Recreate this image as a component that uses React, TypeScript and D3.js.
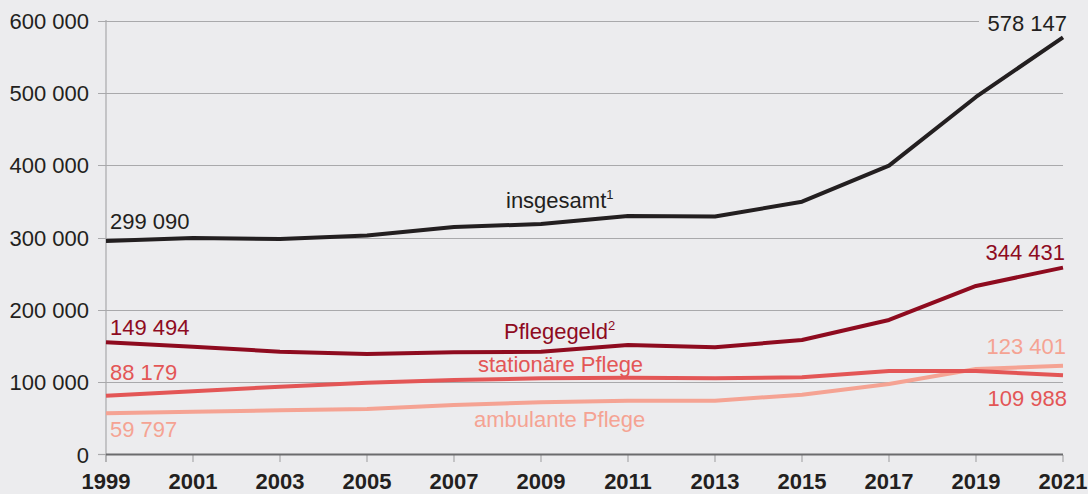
import React from "react";
import * as d3 from "d3";

const years = [1999, 2001, 2003, 2005, 2007, 2009, 2011, 2013, 2015, 2017, 2019, 2021];
const insgesamt = [295000, 299300, 298000, 302800, 314500, 318700, 329700, 329000, 349500, 399300, 494300, 576800];
const pflegegeld = [155100, 149000, 142100, 138900, 141300, 142100, 151400, 148200, 158300, 186000, 233000, 258300];
const stationaer = [81300, 87400, 93700, 99300, 103000, 105300, 106200, 105300, 106700, 115400, 115400, 109500];
const ambulant = [57000, 59200, 61100, 62900, 68400, 72200, 74400, 74400, 82700, 97500, 118200, 122800];
const yTicks = [0, 100000, 200000, 300000, 400000, 500000, 600000];

const W = 1088;
const H = 494;
const FONT = "'Liberation Sans', Arial, Helvetica, sans-serif";

const fmt = (v: number) => (v === 0 ? "0" : d3.format(",")(v).replace(/,/g, " "));

export default function App() {
  const x = d3.scaleLinear().domain([1999, 2021]).range([106, 1063]);
  const y = d3.scaleLinear().domain([0, 600000]).range([454.5, 20.5]);
  const line = d3
    .line<number>()
    .x((_, i) => x(years[i]))
    .y((d) => y(d));

  const series = [
    { data: ambulant, color: "#f5a393" },
    { data: stationaer, color: "#e35656" },
    { data: pflegegeld, color: "#8e0b1f" },
    { data: insgesamt, color: "#231f20" },
  ];

  return (
    <svg
      width={W}
      height={H}
      style={{ position: "absolute", left: 0, top: 0, display: "block" }}
      fontFamily={FONT}
    >
      <rect x={0} y={0} width={W} height={H} fill="#ececee" />
      {yTicks.map((t) => (
        <g key={t}>
          {t > 0 && (
            <line x1={98} x2={1063} y1={Math.round(y(t)) + 0.5} y2={Math.round(y(t)) + 0.5} stroke="#a9a9ab" strokeWidth={1.2} />
          )}
          {t === 0 && <line x1={98} x2={106} y1={y(t)} y2={y(t)} stroke="#a9a9ab" strokeWidth={1.2} />}
          <text x={89} y={y(t) + 8} textAnchor="end" fontSize={22} fill="#231f20">
            {fmt(t)}
          </text>
        </g>
      ))}
      <line x1={106} x2={106} y1={20} y2={462} stroke="#a9a9ab" strokeWidth={1.2} />
      {years.map((yr) => (
        <g key={yr}>
          <line x1={x(yr)} x2={x(yr)} y1={455} y2={462} stroke="#a9a9ab" strokeWidth={1.2} />
          <text x={x(yr)} y={489} textAnchor="middle" fontSize={22} fontWeight="bold" fill="#231f20">
            {yr}
          </text>
        </g>
      ))}
      <line x1={106} x2={1063} y1={454.5} y2={454.5} stroke="#6b6b6d" strokeWidth={2.2} />

      {/* label background for top value */}
      <rect x={979} y={10} width={90} height={22} fill="#ececee" />

      {series.map((s, i) => (
        <path key={i} d={line(s.data) || ""} fill="none" stroke={s.color} strokeWidth={4} strokeLinejoin="round" />
      ))}

      <g fontSize={22}>
        <text x={110} y={229} fill="#231f20">299 090</text>
        <text x={1067} y={31} textAnchor="end" fill="#231f20">578 147</text>
        <text x={506} y={208} fill="#231f20">
          insgesamt<tspan fontSize={13} dy={-9}>1</tspan>
        </text>

        <text x={110} y={335} fill="#8e0b1f">149 494</text>
        <text x={1065} y={260} textAnchor="end" fill="#8e0b1f">344 431</text>
        <text x={504} y={339} fill="#8e0b1f">
          Pflegegeld<tspan fontSize={13} dy={-9}>2</tspan>
        </text>

        <text x={110} y={380} fill="#e35656">88 179</text>
        <text x={1067} y={406} textAnchor="end" fill="#e35656">109 988</text>
        <text x={478} y={372} fill="#e35656">stationäre Pflege</text>

        <text x={110} y={437} fill="#f5a393">59 797</text>
        <text x={1066} y={354} textAnchor="end" fill="#f5a393">123 401</text>
        <text x={474} y={427} fill="#f5a393">ambulante Pflege</text>
      </g>
    </svg>
  );
}
